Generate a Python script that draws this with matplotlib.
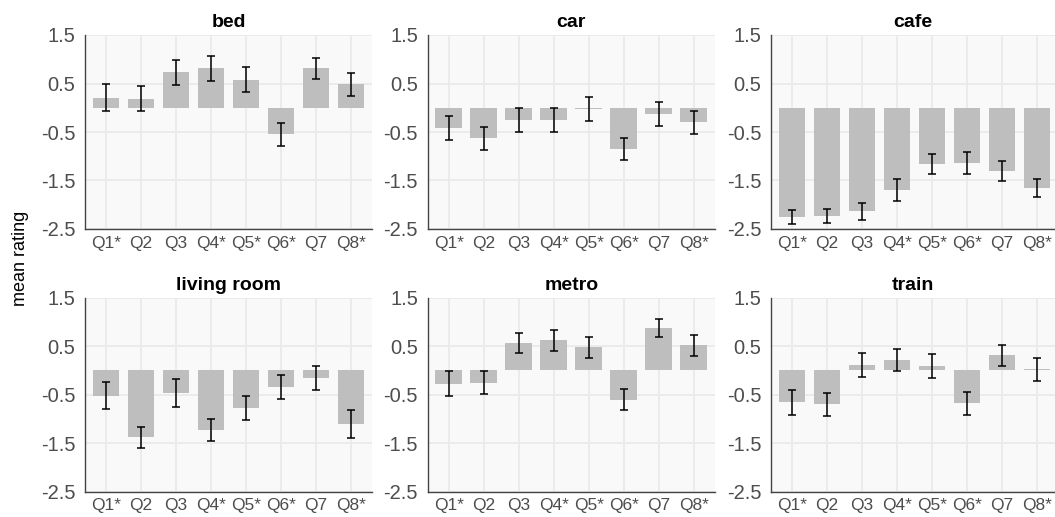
import matplotlib
matplotlib.use("Agg")
import matplotlib.pyplot as plt
import numpy as np

plt.rcParams['font.family'] = ['Liberation Sans', 'DejaVu Sans']

questions = ["Q1*", "Q2", "Q3", "Q4*", "Q5*", "Q6*", "Q7", "Q8*"]
panels = ["bed", "car", "cafe", "living room", "metro", "train"]

bed_mean = [0.21, 0.19, 0.73, 0.81, 0.58, -0.55, 0.81, 0.48]
bed_err = [0.27, 0.265, 0.26, 0.26, 0.26, 0.24, 0.21, 0.235]
car_mean = [-0.42, -0.63, -0.25, -0.25, -0.02, -0.85, -0.13, -0.30]
car_err = [0.24, 0.235, 0.24, 0.245, 0.245, 0.225, 0.245, 0.235]
cafe_mean = [-2.25, -2.23, -2.13, -1.70, -1.16, -1.14, -1.31, -1.66]
cafe_err = [0.15, 0.145, 0.175, 0.225, 0.215, 0.225, 0.205, 0.185]
living_mean = [-0.52, -1.38, -0.46, -1.23, -0.77, -0.34, -0.15, -1.10]
living_err = [0.28, 0.21, 0.29, 0.23, 0.245, 0.25, 0.25, 0.285]
metro_mean = [-0.27, -0.25, 0.56, 0.62, 0.48, -0.60, 0.87, 0.52]
metro_err = [0.25, 0.245, 0.21, 0.22, 0.22, 0.225, 0.19, 0.215]
train_mean = [-0.66, -0.70, 0.11, 0.21, 0.09, -0.68, 0.31, 0.02]
train_err = [0.255, 0.245, 0.24, 0.225, 0.24, 0.24, 0.21, 0.235]

means = [bed_mean, car_mean, cafe_mean, living_mean, metro_mean, train_mean]
errs = [bed_err, car_err, cafe_err, living_err, metro_err, train_err]

yticks = [1.5, 0.5, -0.5, -1.5, -2.5]

W, H = 1055, 517
fig = plt.figure(figsize=(W / 100, H / 100), dpi=100)

lefts = [85, 427.7, 771]
width_px = 287
tops = [35, 297.7]
height_px = 194

x = np.arange(1, 9)
for i, name in enumerate(panels):
    r, c = divmod(i, 3)
    l = lefts[c]
    w = width_px if c < 2 else (W - l)
    ax = fig.add_axes([l / W, 1 - (tops[r] + height_px) / H, w / W, height_px / H])
    ax.set_facecolor('#F9F9F9')
    ax.set_axisbelow(True)
    ax.bar(x, means[i], width=0.76, color='#BEBEBE', zorder=2)
    ax.errorbar(x, means[i], yerr=errs[i], fmt='none', ecolor='black',
                elinewidth=1.1, capsize=3, capthick=1.1, zorder=3)
    ax.set_xlim(0.4, 0.4 + 8.2 * w / width_px)
    ax.set_ylim(-2.5, 1.5)
    ax.set_yticks(yticks)
    ax.set_yticklabels([f"{t:.1f}" for t in yticks])
    ax.set_xticks(x)
    ax.set_xticklabels(questions)
    ax.grid(True, color='#EBEBEB', linewidth=1.4)
    for s in ['top', 'right']:
        ax.spines[s].set_visible(False)
    for s in ['left', 'bottom']:
        ax.spines[s].set_color('#444444')
        ax.spines[s].set_linewidth(1.0)
    ax.tick_params(axis='both', length=0, labelcolor='#4D4D4D')
    ax.tick_params(axis='y', pad=7, labelsize=14.5)
    ax.tick_params(axis='x', pad=4.8, labelsize=12.5)
    ax.set_title(name, fontsize=14, fontweight='bold', pad=5.5)

fig.text(21 / W, 1 - 258 / H, "mean rating", rotation=90, ha='center', va='center',
         fontsize=13, color='black')

fig.savefig("out.png", dpi=100)
